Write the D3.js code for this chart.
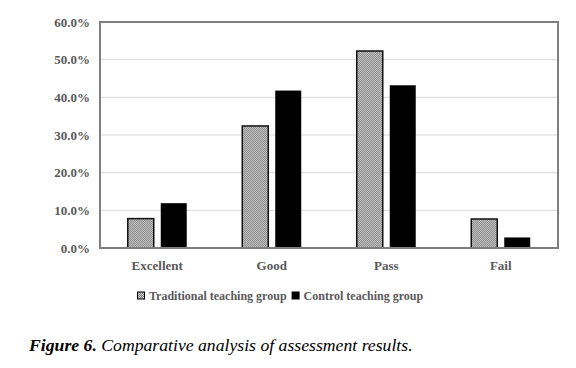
<!DOCTYPE html>
<html>
<head>
<meta charset="utf-8">
<script src="https://cdn.jsdelivr.net/npm/d3@7"></script>
<style>
  body { margin: 0; background: #fff; }
  svg { display: block; }
</style>
</head>
<body>
<svg width="576" height="368"></svg>
<script>
// Data
const categories = ["Excellent", "Good", "Pass", "Fail"];
const seriesNames = ["Traditional teaching group", "Control teaching group"];
const traditional = [7.8, 32.4, 52.3, 7.7];
const control = [11.9, 41.8, 43.2, 2.8];
const yTicks = [0, 10, 20, 30, 40, 50, 60];

const width = 576, height = 368;
const margin = {top: 22, right: 18, bottom: 120, left: 100};
const plotW = width - margin.left - margin.right;
const plotH = height - margin.top - margin.bottom;

const svg = d3.select("svg");
const font = "'Liberation Serif', 'Times New Roman', serif";
const labelColor = "#595959";

// checker pattern for the traditional group
const defs = svg.append("defs");
const pat = defs.append("pattern")
    .attr("id", "checker")
    .attr("width", 2).attr("height", 2)
    .attr("patternUnits", "userSpaceOnUse");
pat.append("rect").attr("width", 2).attr("height", 2).attr("fill", "#d4d4d4");
pat.append("rect").attr("width", 1).attr("height", 1).attr("fill", "#7a7a7a");
pat.append("rect").attr("x", 1).attr("y", 1).attr("width", 1).attr("height", 1).attr("fill", "#7a7a7a");

const g = svg.append("g")
    .attr("transform", `translate(${margin.left},${margin.top})`);

const x0 = d3.scaleBand()
    .domain(categories)
    .range([0, plotW])
    .paddingInner(0.485)
    .paddingOuter(0.2425);

const x1 = d3.scaleBand()
    .domain(seriesNames)
    .range([0, x0.bandwidth()])
    .paddingInner(0.212)
    .paddingOuter(0);

const y = d3.scaleLinear()
    .domain([0, 60])
    .range([plotH, 0]);

// gridlines
g.selectAll(".grid")
    .data(yTicks.slice(1, -1))
    .join("line")
    .attr("x1", 0).attr("x2", plotW)
    .attr("y1", d => y(d)).attr("y2", d => y(d))
    .attr("stroke", "#d9d9d9")
    .attr("stroke-width", 1);

// y tick labels
g.selectAll(".ylab")
    .data(yTicks)
    .join("text")
    .attr("x", -10)
    .attr("y", d => y(d))
    .attr("dy", "0.35em")
    .attr("text-anchor", "end")
    .style("font-family", font)
    .style("font-weight", "bold")
    .style("font-size", "13px")
    .style("fill", labelColor)
    .text(d => d.toFixed(1) + "%");

// bars
const rows = categories.map((c, i) => ({cat: c, vals: [traditional[i], control[i]]}));

const groups = g.selectAll(".grp")
    .data(rows)
    .join("g")
    .attr("transform", d => `translate(${x0(d.cat)},0)`);

groups.selectAll("rect")
    .data(d => d.vals.map((v, j) => ({series: seriesNames[j], v: v, j: j})))
    .join("rect")
    .attr("x", d => x1(d.series))
    .attr("y", d => y(d.v))
    .attr("width", x1.bandwidth())
    .attr("height", d => plotH - y(d.v))
    .attr("fill", d => d.j === 0 ? "url(#checker)" : "#000")
    .attr("stroke", d => d.j === 0 ? "#111" : "none")
    .attr("stroke-width", 1.5);

// frame
g.append("rect")
    .attr("x", 0).attr("y", 0)
    .attr("width", plotW).attr("height", plotH)
    .attr("fill", "none")
    .attr("stroke", "#7f7f7f")
    .attr("stroke-width", 2);

// category labels
g.selectAll(".xlab")
    .data(categories)
    .join("text")
    .attr("x", d => x0(d) + x0.bandwidth() / 2)
    .attr("y", plotH + 22)
    .attr("text-anchor", "middle")
    .style("font-family", font)
    .style("font-weight", "bold")
    .style("font-size", "13px")
    .style("fill", labelColor)
    .text(d => d);

// legend - items laid out one after another by measured text width
const legend = svg.append("g").attr("transform", "translate(137,296)");
let cursor = 0;
seriesNames.forEach((s, j) => {
    const item = legend.append("g").attr("transform", `translate(${cursor},0)`);
    item.append("rect")
        .attr("x", 0.5).attr("y", -4)
        .attr("width", 7).attr("height", 7)
        .attr("fill", j === 0 ? "url(#checker)" : "#000")
        .attr("stroke", "#000")
        .attr("stroke-width", 1);
    const t = item.append("text")
        .attr("x", 12)
        .attr("y", 0)
        .attr("dy", "0.35em")
        .style("font-family", font)
        .style("font-weight", "bold")
        .style("font-size", "12px")
        .style("fill", labelColor)
        .text(s);
    cursor += 12 + t.node().getComputedTextLength() + 5;
});

// caption
const cap = svg.append("text")
    .attr("x", 29)
    .attr("y", 351)
    .style("font-family", font)
    .style("font-style", "italic")
    .style("font-size", "17.7px")
    .style("fill", "#000");
cap.append("tspan").style("font-weight", "bold").text("Figure 6.");
cap.append("tspan").text(" Comparative analysis of assessment results.");
</script>
</body>
</html>
